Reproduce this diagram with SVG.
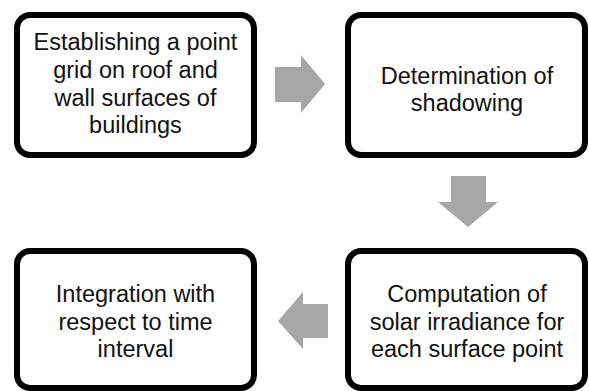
<svg xmlns="http://www.w3.org/2000/svg" width="589" height="391" viewBox="0 0 589 391">
<style>
.box{fill:#fff;stroke:#000;stroke-width:6}
.arr{fill:#a6a6a6;stroke:none}
text{font-family:"Liberation Sans",Arial,sans-serif;font-size:23.5px;fill:#111;text-anchor:middle}
</style>
<rect width="589" height="391" fill="#fff"/>
<g id="connectors">
<polygon class="arr" points="275,67 301,67 301,55 325,84 301,113 301,102 275,102"/>
<polygon class="arr" points="451,176 486,176 486,202 498,202 468,227 438,202 451,202"/>
<polygon class="arr" points="278,321 303,292 303,304 328,304 328,338 303,338 303,349"/>
</g>
<g id="n1">
<rect class="box" x="17" y="15" width="237" height="140" rx="13"/>
<text x="135.5" y="50">Establishing a point</text>
<text x="135.5" y="78">grid on roof and</text>
<text x="135.5" y="106">wall surfaces of</text>
<text x="135.5" y="133">buildings</text>
</g>
<g id="n2">
<rect class="box" x="348" y="15" width="237" height="140" rx="13"/>
<text x="467" y="84">Determination of</text>
<text x="467" y="111">shadowing</text>
</g>
<g id="n3">
<rect class="box" x="348" y="251" width="237" height="137" rx="13"/>
<text x="467" y="302">Computation of</text>
<text x="467" y="329.5">solar irradiance for</text>
<text x="467" y="357">each surface point</text>
</g>
<g id="n4">
<rect class="box" x="17" y="251" width="237" height="137" rx="13"/>
<text x="135.5" y="302">Integration with</text>
<text x="135.5" y="329.5">respect to time</text>
<text x="135.5" y="357">interval</text>
</g>
</svg>
